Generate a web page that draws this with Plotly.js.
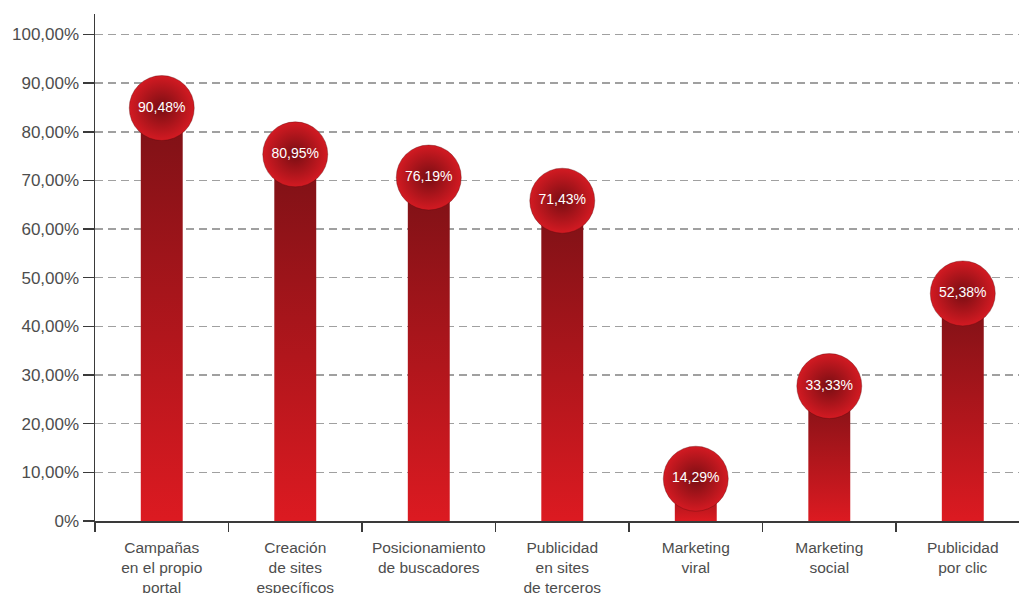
<!DOCTYPE html>
<html>
<head>
<meta charset="utf-8">
<script src="https://cdn.plot.ly/plotly-3.0.1.min.js"></script>
<style>html,body{margin:0;padding:0;background:#fff;}#chart{width:1019px;height:593px;}</style>
</head>
<body>
<div id="chart"></div>
<script>
const categories = [
  'Campañas<br>en el propio<br>portal',
  'Creación<br>de sites<br>específicos',
  'Posicionamiento<br>de buscadores',
  'Publicidad<br>en sites<br>de terceros',
  'Marketing<br>viral',
  'Marketing<br>social',
  'Publicidad<br>por clic'
];
const values = [90.48, 80.95, 76.19, 71.43, 14.29, 33.33, 52.38];
const yTickVals = [0, 10, 20, 30, 40, 50, 60, 70, 80, 90, 100];
const yTickText = ['0%', '10,00%', '20,00%', '30,00%', '40,00%', '50,00%', '60,00%', '70,00%', '80,00%', '90,00%', '100,00%'];

const fmt = v => v.toFixed(2).replace('.', ',') + '%';
const idx = categories.map((c, i) => i);
const halfW = 0.157;     // bar half width (category units)
const capOffset = 5.6;   // circle centre sits below the value (axis units)

const traces = [];
values.forEach((v, i) => {
  const top = v - capOffset;
  traces.push({
    type: 'scatter', mode: 'lines',
    x: [i - halfW, i - halfW, i + halfW, i + halfW, i - halfW],
    y: [0, top, top, 0, 0],
    fill: 'toself',
    line: {width: 0},
    fillgradient: {type: 'vertical', colorscale: [[0, '#dc1a21'], [1, '#7c1116']]},
    hoverinfo: 'skip', showlegend: false
  });
});
traces.push({
  type: 'scatter', mode: 'markers+text',
  x: idx,
  y: values.map(v => v - capOffset),
  text: values.map(fmt),
  textposition: 'middle center',
  textfont: {family: '"Liberation Sans", Arial', size: 14, color: '#ffffff'},
  marker: {size: 65, color: '#d31a22', gradient: {type: 'radial', color: '#780e13'},
           line: {width: 1, color: 'rgba(90,10,12,0.35)'}},
  cliponaxis: false, hoverinfo: 'skip', showlegend: false
});

const layout = {
  width: 1019, height: 593,
  margin: {l: 95, r: 0, t: 14, b: 72},
  paper_bgcolor: '#ffffff', plot_bgcolor: '#ffffff',
  showlegend: false,
  xaxis: {
    type: 'linear', range: [-0.5, 6.421], fixedrange: true,
    tickmode: 'array', tickvals: idx, ticktext: categories,
    ticks: '', showgrid: false, zeroline: false,
    showline: true, linecolor: '#3a3a3a', linewidth: 1.5,
    tickfont: {family: '"Liberation Sans", Arial', size: 15.5, color: '#4d4d4d'},
    ticklabelstandoff: 12,
    minor: {tickmode: 'array', tickvals: idx.map(i => i - 0.5), ticks: 'outside', ticklen: 9, tickwidth: 1.5, tickcolor: '#3a3a3a', showgrid: false}
  },
  yaxis: {
    range: [0, 104.2], fixedrange: true,
    tickmode: 'array', tickvals: yTickVals, ticktext: yTickText,
    ticks: 'outside', ticklen: 11, tickwidth: 1.5, tickcolor: '#3a3a3a',
    showline: true, linecolor: '#3a3a3a', linewidth: 1.5,
    showgrid: true, gridcolor: '#a0a0a0', gridwidth: 1.5, griddash: '8px,5px',
    zeroline: false,
    tickfont: {family: '"Liberation Sans", Arial', size: 17, color: '#4d4d4d'}
  }
};

Plotly.newPlot('chart', traces, layout, {staticPlot: true, displayModeBar: false});
</script>
</body>
</html>
